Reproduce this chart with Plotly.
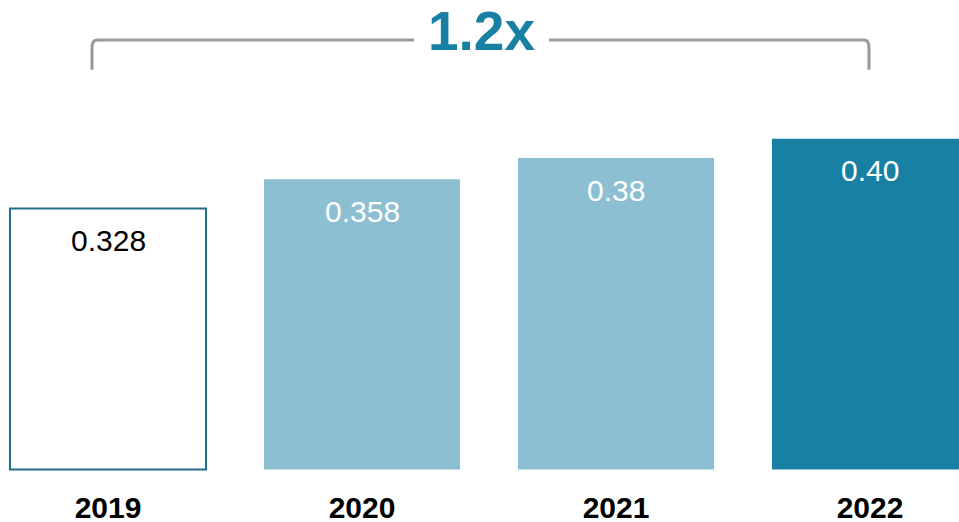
import plotly.graph_objects as go

years = ["2019", "2020", "2021", "2022"]
values = [0.328, 0.358, 0.38, 0.40]
value_labels = ["0.328", "0.358", "0.38", "0.40"]
fill_colors = ["#ffffff", "#8dbfd2", "#8dbfd2", "#1780a3"]
line_colors = ["#1f6f8b", "#8dbfd2", "#8dbfd2", "#1780a3"]
label_colors = ["#000000", "#ffffff", "#ffffff", "#ffffff"]
growth_label = "1.2x"

ymin = 0.0585
ymax = ymin + 471 / 972

xpos = list(range(len(years)))
fig = go.Figure()
fig.add_trace(go.Bar(
    x=xpos, y=[v - ymin for v in values], base=ymin, width=0.772,
    marker=dict(color=fill_colors, line=dict(color=line_colors, width=[2, 0, 0, 0])),
    hoverinfo="skip",
))

for xi, v, lab, c in zip(xpos, values, value_labels, label_colors):
    fig.add_annotation(x=xi, y=v, xref="x", yref="y", text=lab, showarrow=False,
                       yanchor="middle", yshift=-32,
                       font=dict(family="Liberation Sans, Arial", size=30, color=c))

y_line = ymin + (471 - 40) / 972
y_foot = ymin + (471 - 70) / 972
x_left = -0.063
x_right = 2.996
gap_l = (414 - 108) / 254
gap_r = (549 - 108) / 254
r = 0.02
ry = 0.008
gray = "#999999"
fig.add_shape(type="path", xref="x", yref="y",
              path=f"M {x_left} {y_foot} L {x_left} {y_line - ry} Q {x_left} {y_line} {x_left + r} {y_line} L {gap_l} {y_line}",
              line=dict(color=gray, width=3))
fig.add_shape(type="path", xref="x", yref="y",
              path=f"M {gap_r} {y_line} L {x_right - r} {y_line} Q {x_right} {y_line} {x_right} {y_line - ry} L {x_right} {y_foot}",
              line=dict(color=gray, width=3))
fig.add_annotation(x=(gap_l + gap_r) / 2, y=y_line, xref="x", yref="y", text=f"<b>{growth_label}</b>",
                   showarrow=False, yanchor="middle", yshift=9,
                   font=dict(family="Liberation Sans, Arial", size=55, color="#1780a3"))

fig.update_layout(
    width=959, height=522,
    margin=dict(l=0, r=0, t=0, b=51, autoexpand=False),
    plot_bgcolor="white", paper_bgcolor="white",
    showlegend=False,
    xaxis=dict(range=[-108 / 254, (959 - 108) / 254], tickmode="array", tickvals=xpos,
               ticktext=[f"<b>{y}</b>" for y in years], showgrid=False, zeroline=False,
               showline=False, ticks="", ticklabelstandoff=16, automargin=False,
               tickfont=dict(family="Liberation Sans, Arial", size=30, color="#000000")),
    yaxis=dict(range=[ymin - 0.0015, ymax], visible=False, showgrid=False, automargin=False),
)

fig.write_html("out.html", config={"displayModeBar": False},
               post_script="document.body.style.margin='0';document.body.style.overflow='hidden';")
